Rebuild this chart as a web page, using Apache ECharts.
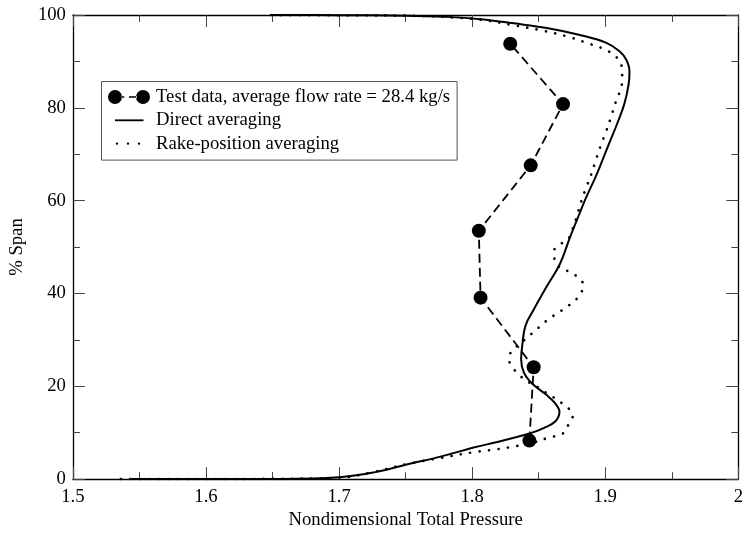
<!DOCTYPE html>
<html>
<head>
<meta charset="utf-8">
<script src="https://cdn.jsdelivr.net/npm/echarts@6/dist/echarts.min.js"></script>
<style>
  html, body { margin: 0; padding: 0; background: #fff; }
  #chart { width: 746px; height: 535px; }
</style>
</head>
<body>
<div id="chart"></div>
<script>
// Measured test points: total pressure vs. span
const testPressure = [1.843, 1.8462, 1.8063, 1.805, 1.844, 1.8683, 1.8286];
const testSpan     = [8.3, 24.1, 39.1, 53.5, 67.6, 80.8, 93.8];

// Direct averaging profile
const directPressure = [1.544, 1.60, 1.65, 1.70, 1.727, 1.7515, 1.777, 1.801, 1.819, 1.8313, 1.8438, 1.8537,
  1.8624, 1.8656, 1.8624, 1.856, 1.845, 1.8388, 1.8368, 1.8376, 1.840, 1.8462, 1.856, 1.866, 1.8735,
  1.8805, 1.8855, 1.8935, 1.9015, 1.9095, 1.9144, 1.9176, 1.9182, 1.9157, 1.9107, 1.9008, 1.881, 1.856,
  1.8313, 1.8066, 1.78, 1.75, 1.70, 1.648];
const directSpan = [0, 0, 0.03, 0.4, 1.5, 3.2, 4.9, 6.8, 8.0, 8.9, 9.9, 11.0,
  12.4, 14.5, 16.3, 18.1, 20.6, 23.0, 25.9, 28.7, 33.0, 36.5, 41.5, 46.4, 52.1,
  57.1, 60.6, 65.6, 71.3, 77.0, 80.9, 85.1, 87.9, 90.4, 92.2, 94.0, 95.7, 97.2,
  98.2, 99.1, 99.6, 99.85, 99.97, 100];

// Rake-position averaging profile
const rakePressure = [1.536, 1.60, 1.65, 1.70, 1.727, 1.7517, 1.777, 1.801, 1.8177, 1.831, 1.845, 1.855,
  1.8616, 1.8685, 1.8723, 1.8755, 1.8723, 1.8668, 1.8606, 1.8544, 1.8482, 1.8425, 1.8358, 1.8306,
  1.8276, 1.830, 1.8358, 1.8413, 1.847, 1.8525, 1.858, 1.8644, 1.8705, 1.8765, 1.8815, 1.8834,
  1.879, 1.8728, 1.866, 1.8618, 1.8618, 1.8668, 1.873, 1.8755, 1.878, 1.882, 1.8857, 1.8894,
  1.8926, 1.8968, 1.9005, 1.904, 1.9083, 1.9112, 1.9127, 1.9127, 1.9107, 1.9058, 1.8996, 1.886,
  1.871, 1.85, 1.8289, 1.8115, 1.79, 1.76, 1.70, 1.645];
const rakeSpan = [0, 0, 0.05, 0.3, 1.6, 3.3, 4.6, 5.8, 6.4, 7.0, 7.8, 8.7,
  9.2, 9.9, 11.7, 13.5, 15.3, 16.5, 17.7, 18.8, 20.0, 20.9, 22.3, 24.0,
  25.9, 27.7, 29.1, 30.5, 31.9, 33.3, 34.6, 35.8, 37.0, 38.3, 39.9, 41.9,
  43.6, 44.7, 45.6, 47.3, 49.3, 50.7, 52.1, 53.9, 56.0, 59.9, 62.8, 65.6,
  68.4, 72.0, 74.8, 77.7, 81.6, 83.7, 85.8, 87.9, 90.1, 91.5, 92.6, 94.0,
  95.4, 96.8, 97.9, 98.8, 99.4, 99.8, 99.95, 100];

const seriesNames = ['Test data, average flow rate = 28.4 kg/s', 'Direct averaging', 'Rake-position averaging'];
const xTicks = { min: 1.5, max: 2.0, step: 0.1 };
const yTicks = { min: 0, max: 100, step: 20 };

const zip = (a, b) => a.map((v, i) => [v, b[i]]);

const FONT = 'Liberation Serif';
const FS = 18.7;

function axisCommon(showLabels) {
  return {
    axisLine: { show: true, onZero: false, lineStyle: { color: '#000', width: 1.3 } },
    axisTick: { show: true, inside: true, length: 12, lineStyle: { color: '#444', width: 1 } },
    minorTick: { show: true, splitNumber: 2, length: 7, lineStyle: { color: '#444', width: 1 } },
    splitLine: { show: false },
    minorSplitLine: { show: false },
    axisLabel: {
      show: showLabels, color: '#000', fontFamily: FONT, fontSize: FS, margin: 7
    }
  };
}

// Legend icons: marker-dash-marker, solid line, dotted line (same 42x14 box)
const iconTest = 'path://M0,7a7,7 0 1,0 14,0a7,7 0 1,0 -14,0Z' +
  'M13.5,6.2h2.8v1.6h-2.8Z M21,6.2h8v1.6h-8Z' +
  'M28,7a7,7 0 1,0 14,0a7,7 0 1,0 -14,0Z';
const iconSolid = 'path://M0,0L0,0M42,14L42,14M7,6.1h28.5v1.8h-28.5Z';
const iconDots = 'path://M0,0L0,0M42,14L42,14' +
  'M7.8,7a1.2,1.2 0 1,0 2.4,0a1.2,1.2 0 1,0 -2.4,0Z' +
  'M18.8,7a1.2,1.2 0 1,0 2.4,0a1.2,1.2 0 1,0 -2.4,0Z' +
  'M29.8,7a1.2,1.2 0 1,0 2.4,0a1.2,1.2 0 1,0 -2.4,0Z';

const chart = echarts.init(document.getElementById('chart'), null, { renderer: 'canvas' });

chart.setOption({
  backgroundColor: '#fff',
  animation: false,
  textStyle: { fontFamily: FONT },
  grid: { left: 68, right: 6, top: 15, bottom: 50, containLabel: false },
  legend: {
    orient: 'vertical',
    left: 101.5,
    top: 81.5,
    padding: [6, 7, 7, 6.5],
    itemGap: 4.3,
    itemWidth: 42,
    itemHeight: 14,
    borderColor: '#555',
    borderWidth: 1,
    backgroundColor: '#fff',
    itemStyle: { borderWidth: 0 },
    textStyle: { color: '#000', fontFamily: FONT, fontSize: FS, lineHeight: 19, padding: [0, 0, 0, 1] },
    selectedMode: false,
    data: [
      { name: seriesNames[0], icon: iconTest },
      { name: seriesNames[1], icon: iconSolid },
      { name: seriesNames[2], icon: iconDots }
    ]
  },
  xAxis: [
    Object.assign(axisCommon(true), {
      type: 'value', position: 'bottom',
      min: xTicks.min, max: xTicks.max, interval: xTicks.step,
      name: 'Nondimensional Total Pressure', nameLocation: 'middle', nameGap: 31,
      nameTextStyle: { color: '#000', fontFamily: FONT, fontSize: FS },
      axisLabel: {
        color: '#000', fontFamily: FONT, fontSize: FS, margin: 8,
        formatter: v => (Math.abs(v - 2) < 1e-9 ? '2' : v.toFixed(1))
      }
    }),
    Object.assign(axisCommon(false), {
      type: 'value', position: 'top',
      min: xTicks.min, max: xTicks.max, interval: xTicks.step
    })
  ],
  yAxis: [
    Object.assign(axisCommon(true), {
      type: 'value', position: 'left',
      min: yTicks.min, max: yTicks.max, interval: yTicks.step,
      name: '% Span', nameLocation: 'middle', nameGap: 31, nameRotate: 90,
      nameTextStyle: { color: '#000', fontFamily: FONT, fontSize: FS }
    }),
    Object.assign(axisCommon(false), {
      type: 'value', position: 'right',
      min: yTicks.min, max: yTicks.max, interval: yTicks.step
    })
  ],
  series: [
    {
      name: seriesNames[1],
      type: 'line',
      data: zip(directPressure, directSpan),
      showSymbol: false,
      symbol: 'none',
      smooth: 0.4,
      color: '#000',
      lineStyle: { color: '#000', width: 2 },
      z: 3
    },
    {
      name: seriesNames[2],
      type: 'line',
      data: zip(rakePressure, rakeSpan),
      showSymbol: false,
      symbol: 'none',
      smooth: 0.4,
      color: '#000',
      lineStyle: { color: '#000', width: 2.7, type: [0.01, 9.5], cap: 'round' },
      z: 3
    },
    {
      name: seriesNames[0],
      type: 'line',
      data: zip(testPressure, testSpan),
      symbol: 'circle',
      symbolSize: 14,
      color: '#000',
      itemStyle: { color: '#000' },
      lineStyle: { color: '#000', width: 1.8, type: [9, 5] },
      z: 4
    }
  ]
});
</script>
</body>
</html>
